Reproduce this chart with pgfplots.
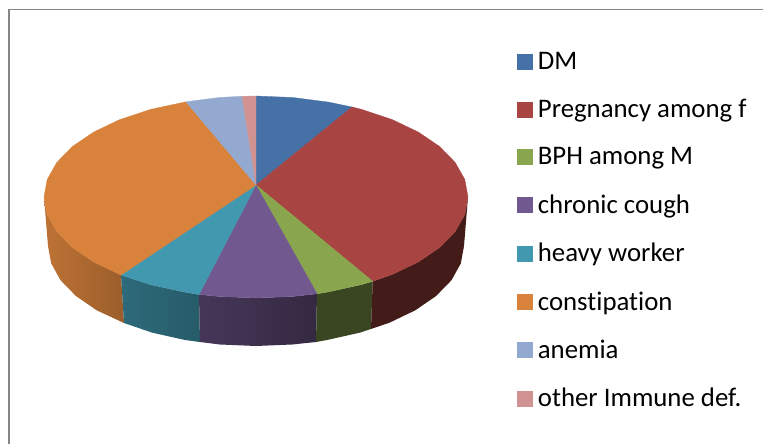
\documentclass[border=0pt]{standalone}
\usepackage{fontspec}
\setmainfont[Ligatures=NoCommon]{Carlito}
\usepackage{pgfplots}
\pgfplotsset{compat=1.18}
\definecolor{cDM}{RGB}{69,113,166}
\definecolor{cPr}{RGB}{168,69,66}
\definecolor{cBP}{RGB}{137,165,78}
\definecolor{cCh}{RGB}{113,88,143}
\definecolor{cHe}{RGB}{65,152,175}
\definecolor{cCo}{RGB}{216,130,60}
\definecolor{cAn}{RGB}{147,169,207}
\definecolor{cOt}{RGB}{209,147,146}
\definecolor{frame}{RGB}{134,134,134}
\begin{document}
\begin{tikzpicture}
\begin{axis}[
  scale only axis, width=763pt, height=444pt,
  xmin=0, xmax=763, ymin=0, ymax=444, y dir=reverse,
  hide axis,
  legend cell align=left,
  legend image code/.code={\fill[#1] (0pt,-7.5pt) rectangle (15pt,7.5pt);},
  legend style={at={(axis cs:517,50)}, anchor=north west, draw=none, fill=none,
    font=\fontsize{26.8}{26.8}\selectfont, row sep=24.4pt, inner sep=0pt, inner ysep=0pt,
    /tikz/every odd column/.append style={column sep=3.4pt}},
]
% page and frame
\addplot[forget plot, fill=white, draw=none] coordinates {(0,0)(763,0)(763,444)(0,444)(0,0)};
\addplot[forget plot, frame, line width=1.6pt] coordinates {(9,444)(9,9.5)(763,9.5)};
% walls
\addplot[forget plot, draw=none, left color=cCo!88!black, right color=cCo!72!black] coordinates {
 (44,197)(47.2,214.5)(56.8,231.5)(72.4,247.5)(93.6,261.9)(121,275)
 (124,323)(96.7,310.3)(75.9,296)(60.5,280.2)(51.2,263.4)(48,246)(44,197)};
\addplot[forget plot, draw=none, left color=cHe!70!black, right color=cHe!60!black] coordinates {
 (121,275)(150,284.5)(183.5,291.9)(199,294.5)(200,342)(184.9,340)(152,332.6)(124,323)(121,275)};
\addplot[forget plot, draw=none, left color=cCh!62!black, right color=cCh!46!black] coordinates {
 (199,294.5)(219.2,296.5)(256,298)(292.8,296.5)(317,293.8)(316,342)(292.1,344.5)(256,346)(219.9,344.5)(200,342)(199,294.5)};
\addplot[forget plot, draw=none, fill=cBP!42!black] coordinates {
 (317,293.8)(328.5,291.9)(362,284.5)(372.7,281.3)(371,329)(360,332.6)(327.1,340)(316,342)(317,293.8)};
\addplot[forget plot, draw=none, fill=cPr!40!black] coordinates {
 (372.7,281.3)(392.3,274.4)(418.4,261.9)(439.6,247.5)(455.2,231.5)(464.8,214.5)(468,197)
 (464,246)(460.8,263.4)(451.5,280.2)(436.1,296)(415.3,310.3)(389.7,322.6)(371,329)(372.7,281.3)};
% top faces
\addplot[fill=cDM, draw=cDM, line width=.3pt] coordinates {
 (256,185)(256,96)(292.8,97.5)(328.5,102.1)(352,107)(256,185)};
\addlegendentry{DM}
\addplot[fill=cPr, draw=cPr, line width=.3pt] coordinates {
 (256,185)(352,107)(362,109.5)(392.3,119.6)(418.4,132.1)(439.6,146.5)(455.2,162.5)(464.8,179.5)(468,197)
 (464.8,214.5)(455.2,231.5)(439.6,247.5)(418.4,261.9)(392.3,274.4)(372.7,281.3)(256,185)};
\addlegendentry{Pregnancy among f}
\addplot[fill=cBP, draw=cBP, line width=.3pt] coordinates {
 (256,185)(372.7,281.3)(362,284.5)(328.5,291.9)(317,293.8)(256,185)};
\addlegendentry{BPH among M}
\addplot[fill=cCh, draw=cCh, line width=.3pt] coordinates {
 (256,185)(317,293.8)(292.8,296.5)(256,298)(219.2,296.5)(199,294.5)(256,185)};
\addlegendentry{chronic cough}
\addplot[fill=cHe, draw=cHe, line width=.3pt] coordinates {
 (256,185)(199,294.5)(183.5,291.9)(150,284.5)(121,275)(256,185)};
\addlegendentry{heavy worker}
\addplot[fill=cCo, draw=cCo, line width=.3pt] coordinates {
 (256,185)(121,275)(93.6,261.9)(72.4,247.5)(56.8,231.5)(47.2,214.5)(44,197)(47.2,179.5)(56.8,162.5)(72.4,146.5)(93.6,132.1)(119.7,119.6)(150,109.5)(186,101.8)(256,185)};
\addlegendentry{constipation}
\addplot[fill=cAn, draw=cAn, line width=.3pt] coordinates {
 (256,185)(186,101.8)(219.2,97.5)(242,96.3)(256,185)};
\addlegendentry{anemia}
\addplot[fill=cOt, draw=cOt, line width=.3pt] coordinates {
 (256,185)(242,96.3)(256,96)(256,185)};
\addlegendentry{other Immune def.}
\end{axis}
\end{tikzpicture}
\end{document}
